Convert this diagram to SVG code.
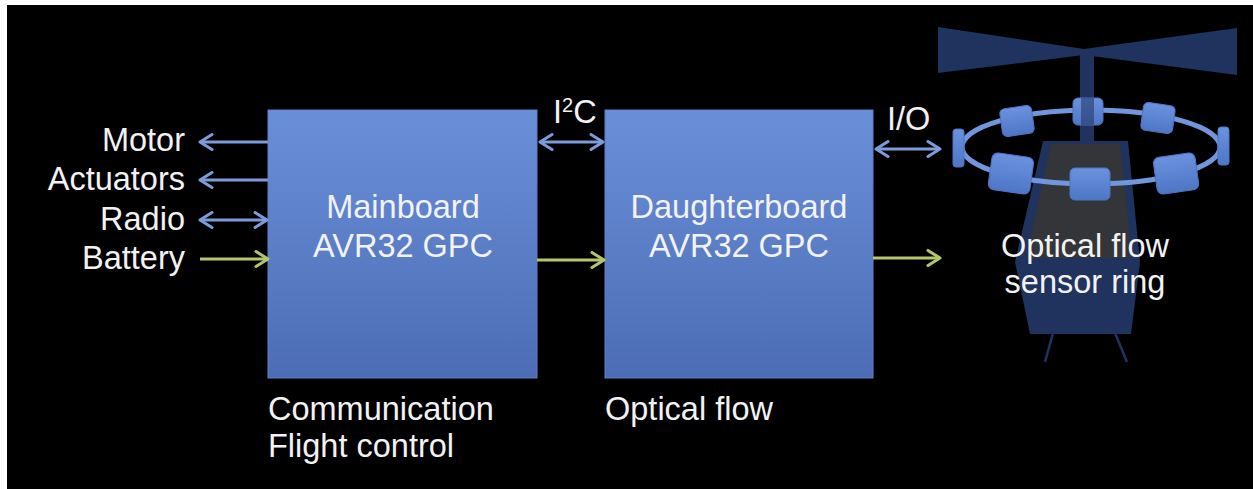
<svg xmlns="http://www.w3.org/2000/svg" width="1253" height="489" viewBox="0 0 1253 489">
  <defs>
    <style>
      .lbl { font-family: "Liberation Sans", Arial, Helvetica, sans-serif; font-size: 32.5px; fill: #f2f2f2; }
      .mid { text-anchor: middle; }
      .end { text-anchor: end; }
      .board { fill: url(#boardFill); stroke: #5c80c9; stroke-width: 1; }
      .bus { fill: none; stroke: #7d9bd8; stroke-width: 3; }
      .pwr { fill: none; stroke: #b3c76a; stroke-width: 3; }
      .pod { fill: url(#podFill); stroke: #4f74c0; stroke-width: 1; }
      .hull { fill: #1f335e; }
      .ring { fill: none; stroke: #7196dc; stroke-width: 5; }
    </style>
    <linearGradient id="boardFill" x1="0" y1="0" x2="0" y2="1">
      <stop offset="0" stop-color="#6a8fd9"/>
      <stop offset="1" stop-color="#4c6db5"/>
    </linearGradient>
    <linearGradient id="podFill" x1="0" y1="0" x2="0" y2="1">
      <stop offset="0" stop-color="#6a92de"/>
      <stop offset="1" stop-color="#4d76c6"/>
    </linearGradient>
    <marker id="headBlue" viewBox="0 0 18 18" refX="15" refY="9" markerWidth="18" markerHeight="18" markerUnits="userSpaceOnUse" orient="auto-start-reverse">
      <path d="M3,1.5 L15,9 L3,16.5" fill="none" stroke="#7d9bd8" stroke-width="3" stroke-linecap="round" stroke-linejoin="round"/>
    </marker>
    <marker id="headGreen" viewBox="0 0 18 18" refX="15" refY="9" markerWidth="18" markerHeight="18" markerUnits="userSpaceOnUse" orient="auto-start-reverse">
      <path d="M3,1.5 L15,9 L3,16.5" fill="none" stroke="#b3c76a" stroke-width="3" stroke-linecap="round" stroke-linejoin="round"/>
    </marker>
  </defs>

  <!-- page -->
  <rect x="0" y="0" width="1253" height="489" fill="#ffffff"/>
  <rect x="7" y="5" width="1246" height="484" fill="#000000"/>

  <!-- external signal labels -->
  <g id="signals">
    <text class="lbl end" x="185" y="151">Motor</text>
    <text class="lbl end" x="185" y="190">Actuators</text>
    <text class="lbl end" x="185" y="230">Radio</text>
    <text class="lbl end" x="185" y="269">Battery</text>
  </g>

  <g id="mainboard">
    <rect class="board" x="268" y="110" width="269" height="268"/>
    <text class="lbl mid" x="403" y="218">Mainboard</text>
    <text class="lbl mid" x="403" y="257">AVR32 GPC</text>
    <text class="lbl" x="268" y="420">Communication</text>
    <text class="lbl" x="268" y="457">Flight control</text>
  </g>

  <g id="daughterboard">
    <rect class="board" x="605" y="110" width="268" height="268"/>
    <text class="lbl mid" x="739" y="218">Daughterboard</text>
    <text class="lbl mid" x="739" y="257">AVR32 GPC</text>
    <text class="lbl" x="605" y="420">Optical flow</text>
  </g>

  <g id="sensor-ring">
    <!-- rotor -->
    <polygon class="hull" points="938,27 1084,49 1237,28 1237,75 1084,55 938,73"/>
    <!-- mast -->
    <rect class="hull" x="1080" y="50" width="14" height="96"/>
    <!-- fuselage -->
    <polygon class="hull" points="1043,141 1128,141 1140,262 1131,334 1030,334 1015,262"/>
    <polygon fill="#333538" points="1051,144 1120,144 1132,258 1026,258"/>
    <!-- skids -->
    <line x1="1053" y1="333" x2="1045" y2="362" stroke="#1f335e" stroke-width="2.5"/>
    <line x1="1115" y1="333" x2="1127" y2="362" stroke="#1f335e" stroke-width="2.5"/>
    <!-- rear half of ring with pods -->
    <path class="ring" d="M962,147 A129,37 0 0 1 1220,147"/>
    <rect class="pod" x="1001" y="107" width="32" height="28" rx="5" transform="rotate(-8 1017 121)"/>
    <rect class="pod" x="1142" y="104" width="32" height="28" rx="5" transform="rotate(8 1158 118)"/>
    <rect class="pod" x="1073" y="98" width="30" height="27" rx="5"/>
    <rect x="1081" y="98" width="13" height="27" fill="#1f335e" opacity="0.55"/>
    <!-- front half of ring with pods -->
    <path class="ring" d="M962,147 A129,37 0 0 0 1220,147"/>
    <rect class="pod" x="953" y="129" width="11" height="38" rx="3"/>
    <rect class="pod" x="1218" y="127" width="11" height="38" rx="3"/>
    <rect class="pod" x="990" y="155" width="42" height="37" rx="6" transform="rotate(8 1011 173)"/>
    <rect class="pod" x="1155" y="155" width="42" height="37" rx="6" transform="rotate(-8 1176 173)"/>
    <rect class="pod" x="1070" y="168" width="40" height="32" rx="5"/>
    <text class="lbl mid" x="1085" y="257">Optical flow</text>
    <text class="lbl mid" x="1085" y="293">sensor ring</text>
  </g>

  <g id="connectors">
    <line class="bus" x1="268" y1="142" x2="200" y2="142" marker-end="url(#headBlue)"/>
    <line class="bus" x1="268" y1="180" x2="200" y2="180" marker-end="url(#headBlue)"/>
    <line class="bus" x1="200" y1="220" x2="267" y2="220" marker-start="url(#headBlue)" marker-end="url(#headBlue)"/>
    <line class="pwr" x1="200" y1="259" x2="268" y2="259" marker-end="url(#headGreen)"/>
    <line class="bus" x1="540" y1="142" x2="603" y2="142" marker-start="url(#headBlue)" marker-end="url(#headBlue)"/>
    <line class="pwr" x1="537" y1="260" x2="604" y2="260" marker-end="url(#headGreen)"/>
    <line class="bus" x1="876" y1="149" x2="940" y2="149" marker-start="url(#headBlue)" marker-end="url(#headBlue)"/>
    <line class="pwr" x1="873" y1="258" x2="940" y2="258" marker-end="url(#headGreen)"/>
    <text class="lbl" x="553" y="123">I<tspan font-size="20" dy="-11">2</tspan><tspan dy="11">C</tspan></text>
    <text class="lbl" x="887" y="130">I/O</text>
  </g>
</svg>
